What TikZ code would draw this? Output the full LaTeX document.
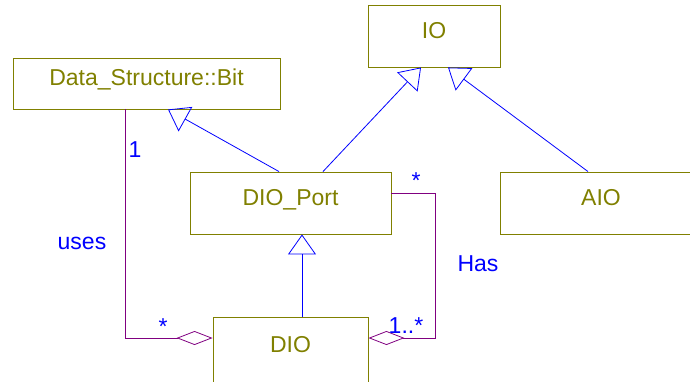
\documentclass[tikz,border=0pt]{standalone}
\usepackage{fontspec}
\setmainfont{Liberation Sans}
\usetikzlibrary{positioning}
\usetikzlibrary{calc}
\usetikzlibrary{arrows.meta}
\definecolor{umlolive}{RGB}{128,128,0}
\definecolor{umlpurple}{RGB}{128,0,128}
\definecolor{umlblue}{RGB}{0,0,255}
\tikzset{cls/.style={draw=umlolive, text=umlolive, line width=0.9pt, font=\fontsize{23}{27}\selectfont, text height=0.72em, text depth=0.32em, inner sep=0pt}}
\tikzset{mult/.style={text=umlblue, font=\fontsize{23}{27}\selectfont, inner sep=0pt, anchor=base}}
\tikzset{gen/.style={draw=umlblue, line width=0.8pt, -{Triangle[open,length=20pt,width=28pt]}}}
\tikzset{assoc/.style={draw=umlpurple, line width=0.8pt, -{Diamond[open,length=36pt,width=14pt]}}}

\begin{document}
\begin{tikzpicture}[x=1pt,y=-1pt]

    \useasboundingbox (0,0) rectangle (690,381);
    \clip (0,0) rectangle (690,381);

    % Nodes
    \node [cls, minimum width=132pt, minimum height=62pt] (io) at (434,36) {IO};
    \node [cls, minimum width=267pt, minimum height=51pt] (bit) at (146.5,83.5) {Data\_Structure::Bit};
    \node [cls, minimum width=201pt, minimum height=62pt] (dioport) at (290.5,203) {DIO\_Port};
    \node [cls, minimum width=202pt, minimum height=62pt] (aio) at (601,203) {AIO};
    \node [cls, minimum width=155pt, minimum height=66pt] (dio) at (290.5,350) {DIO};

    % Generalizations
    \draw [gen] ([xshift=-11.5pt]dioport.north) -- ([xshift=21.5pt]bit.south);
    \draw [gen] ([xshift=32.5pt]dioport.north) -- ([xshift=-13pt]io.south);
    \draw [gen] ([xshift=-13pt]aio.north) -- ([xshift=14pt]io.south);
    \draw [gen] ([xshift=11.5pt]dio.north) -- ([xshift=11.5pt]dioport.south);

    % Associations
    \draw [assoc] ([xshift=-21.5pt]bit.south) |- ([yshift=12pt]dio.west);
    \coordinate (hasbend) at ($(dioport.east) + (44,-10)$);
    \draw [assoc] ([yshift=10pt]dioport.east) -- (hasbend) |- ([yshift=12pt]dio.east);

    % Multiplicities and names
    \node [mult] (usesone) at (135,157) {1};
    \node [mult] (usesname) at (82,249) {uses};
    \node [mult] (usesmany) at (163,334.5) {*};
    \node [mult] (hasmany) at (416,188) {*};
    \node [mult] (hasname) at (478,271) {Has};
    \node [mult] (hasrange) at (406,333) {1..*};

\end{tikzpicture}
\end{document}
